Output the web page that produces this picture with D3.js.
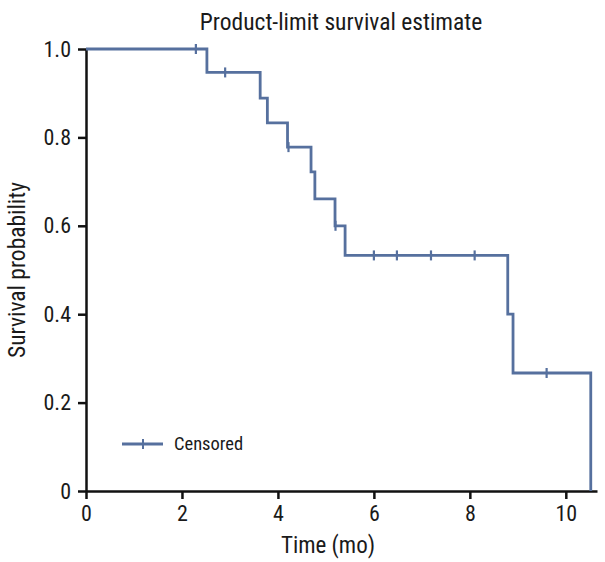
<!DOCTYPE html>
<html><head><meta charset="utf-8">
<script src="https://cdn.jsdelivr.net/npm/d3@7"></script>
<style>
body{margin:0;background:#fff;}
text{font-family:"Liberation Sans Narrow","Roboto Condensed","DejaVu Sans Condensed",sans-serif;fill:#1a1a1a;}
</style></head>
<body><svg id="c" width="605" height="562"></svg>
<script>
// Step times (event times) and survival after each step
const stepTimes = [0, 2.52, 3.63, 3.78, 4.2, 4.69, 4.77, 5.19, 5.4, 8.79, 8.9, 10.52];
const survival  = [1.0, 0.947, 0.889, 0.833, 0.778, 0.722, 0.661, 0.600, 0.533, 0.400, 0.267, 0];
const censorTimes = [2.29, 2.9, 4.22, 5.2, 6.0, 6.48, 7.19, 8.1, 9.6];
const xTicks = [0, 2, 4, 6, 8, 10];
const yTicks = [0, 0.2, 0.4, 0.6, 0.8, 1.0];
const yTickLabels = ["0", "0.2", "0.4", "0.6", "0.8", "1.0"];

const svg = d3.select("#c");
const color = "#56709e";
const x = d3.scaleLinear().domain([0, 10.65]).range([86, 597]);
const y = d3.scaleLinear().domain([0, 1]).range([491, 49]);

function survAt(t){
  let s = survival[0];
  for (let i = 0; i < stepTimes.length; i++) if (stepTimes[i] <= t) s = survival[i];
  return s;
}

// axes
const xAxis = svg.append("g").attr("transform", "translate(0,491)")
  .call(d3.axisBottom(x).tickValues(xTicks).tickSize(8).tickSizeOuter(0).tickPadding(4));
const yAxis = svg.append("g").attr("transform", "translate(86,0)")
  .call(d3.axisLeft(y).tickValues(yTicks).tickFormat((d,i)=>yTickLabels[i]).tickSize(8).tickSizeOuter(0).tickPadding(7));
[xAxis, yAxis].forEach(g=>{
  g.select(".domain").attr("stroke","#111").attr("stroke-width",2.5);
  g.selectAll(".tick line").attr("stroke","#111").attr("stroke-width",2.5);
  g.selectAll(".tick text").attr("font-size",22).attr("fill","#1a1a1a")
    .attr("font-family",'"Liberation Sans Narrow","Roboto Condensed","DejaVu Sans Condensed",sans-serif');
});
xAxis.selectAll(".tick text").attr("dy","0.8em");

// survival curve
const line = d3.line().curve(d3.curveStepAfter).x(d=>x(d[0])).y(d=>y(d[1]));
const pts = stepTimes.map((t,i)=>[t, survival[i]]);
svg.append("path").datum(pts).attr("d", line)
  .attr("fill","none").attr("stroke",color).attr("stroke-width",2.8);

// censor marks
svg.append("g").selectAll("line").data(censorTimes).join("line")
  .attr("x1",d=>x(d)).attr("x2",d=>x(d))
  .attr("y1",d=>y(survAt(d))-5).attr("y2",d=>y(survAt(d))+5)
  .attr("stroke",color).attr("stroke-width",2.2);

// legend
const lg = svg.append("g");
lg.append("line").attr("x1",122).attr("x2",163).attr("y1",444).attr("y2",444).attr("stroke",color).attr("stroke-width",2.8);
lg.append("line").attr("x1",143).attr("x2",143).attr("y1",439).attr("y2",449).attr("stroke",color).attr("stroke-width",2);
lg.append("text").attr("x",174).attr("y",444).attr("dy","0.35em").attr("font-size",18.5).text("Censored");

// titles
svg.append("text").attr("x",341).attr("y",30).attr("text-anchor","middle").attr("font-size",23.5).text("Product-limit survival estimate");
svg.append("text").attr("x",328).attr("y",553).attr("text-anchor","middle").attr("font-size",23).text("Time (mo)");
svg.append("text").attr("transform","translate(25,270) rotate(-90)").attr("text-anchor","middle").attr("font-size",23.5).text("Survival probability");
</script></body></html>
